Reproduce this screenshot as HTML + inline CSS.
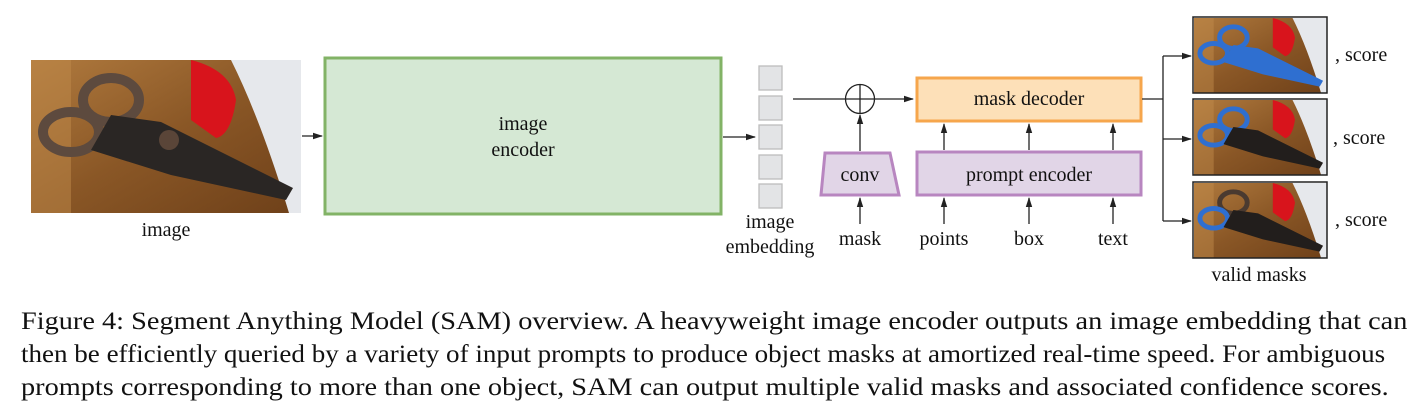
<!DOCTYPE html>
<html><head><meta charset="utf-8"><style>
html,body{margin:0;padding:0;background:#fff;}
svg{display:block;}
text{font-family:"Liberation Serif",serif;fill:#111;}
.cap{position:absolute;left:21px;font-family:"Liberation Serif",serif;font-size:25.5px;color:#111;white-space:nowrap;line-height:1;transform:scaleX(1.11);transform-origin:0 0;}
.j{width:1249px;text-align:justify;text-align-last:justify;white-space:normal;}
</style></head><body>
<div style="position:relative;width:1428px;height:414px;overflow:hidden;">
<svg width="1428" height="414" viewBox="0 0 1428 414" xmlns="http://www.w3.org/2000/svg" style="position:absolute;left:0;top:0;">
<defs>
<marker id="ar" markerWidth="10" markerHeight="8" refX="9" refY="4" orient="auto" markerUnits="userSpaceOnUse">
<path d="M0,0.8 L10,4 L0,7.2 z" fill="#222"/></marker>
<linearGradient id="wood" x1="0" y1="0" x2="1" y2="1">
<stop offset="0" stop-color="#b07a3e"/><stop offset="0.5" stop-color="#8a5726"/><stop offset="1" stop-color="#6e4019"/></linearGradient>
<g id="scene">
<rect width="270" height="153" fill="url(#wood)"/>
<rect x="0" y="0" width="40" height="153" fill="#c08a4a" opacity="0.5"/>
<path d="M160,0 Q200,10 205,40 Q200,75 185,78 L160,60 Z" fill="#d8141c"/>
<path d="M200,0 L270,0 L270,153 L258,153 Q230,60 200,0 Z" fill="#e6e8ec"/>
</g>
</defs>

<g transform="translate(31,60)">
<use href="#scene"/>
<ellipse cx="80" cy="40" rx="28" ry="22" fill="none" stroke="#5d4a3e" stroke-width="10"/>
<ellipse cx="40" cy="72" rx="28" ry="20" fill="none" stroke="#5d4a3e" stroke-width="10"/>
<path d="M80,55 L130,62 L262,128 L255,140 L140,115 L60,90 Z" fill="#2a2624"/>
<circle cx="138" cy="80" r="10" fill="#5a4538"/>
</g>
<text x="166" y="236" font-size="20" text-anchor="middle">image</text>
<line x1="302" y1="136" x2="322" y2="136" stroke="#222" stroke-width="1.3" marker-end="url(#ar)"/>

<rect x="325" y="58" width="396" height="156" fill="#d5e8d4" stroke="#82b366" stroke-width="3"/>
<text x="523" y="130" font-size="20" text-anchor="middle">image</text>
<text x="523" y="156" font-size="20" text-anchor="middle">encoder</text>
<line x1="723" y1="137" x2="755" y2="137" stroke="#222" stroke-width="1.3" marker-end="url(#ar)"/>

<g fill="#e3e4e6" stroke="#bdbdbd" stroke-width="1.3">
<rect x="759" y="66" width="23" height="24"/><rect x="759" y="96" width="23" height="24"/>
<rect x="759" y="125" width="23" height="24"/><rect x="759" y="155" width="23" height="24"/>
<rect x="759" y="184" width="23" height="24"/></g>
<text x="770" y="228" font-size="20" text-anchor="middle">image</text>
<text x="770" y="253" font-size="20" text-anchor="middle">embedding</text>

<line x1="793" y1="99" x2="913" y2="99" stroke="#222" stroke-width="1.3" marker-end="url(#ar)"/>
<circle cx="860" cy="99" r="14.5" fill="#fff" stroke="#222" stroke-width="1.3"/>
<line x1="846" y1="99" x2="874" y2="99" stroke="#222" stroke-width="1.3"/>
<line x1="860" y1="85" x2="860" y2="113" stroke="#222" stroke-width="1.3"/>
<line x1="860" y1="151" x2="860" y2="115" stroke="#222" stroke-width="1.3" marker-end="url(#ar)"/>

<path d="M825,153 L890,153 L899,195 L821,195 Z" fill="#e1d5e7" stroke="#b886c0" stroke-width="3"/>
<text x="860" y="181" font-size="20" text-anchor="middle">conv</text>

<rect x="917" y="78" width="224" height="43" fill="#fde0b8" stroke="#f6a64c" stroke-width="3"/>
<text x="1029" y="105" font-size="20" text-anchor="middle">mask decoder</text>
<rect x="917" y="152" width="224" height="43" fill="#e1d5e7" stroke="#b886c0" stroke-width="3"/>
<text x="1029" y="181" font-size="20" text-anchor="middle">prompt encoder</text>

<g stroke="#222" stroke-width="1.3">
<line x1="944" y1="150" x2="944" y2="124" marker-end="url(#ar)"/>
<line x1="1029" y1="150" x2="1029" y2="124" marker-end="url(#ar)"/>
<line x1="1113" y1="150" x2="1113" y2="124" marker-end="url(#ar)"/>
<line x1="860" y1="224" x2="860" y2="198" marker-end="url(#ar)"/>
<line x1="944" y1="224" x2="944" y2="198" marker-end="url(#ar)"/>
<line x1="1029" y1="224" x2="1029" y2="198" marker-end="url(#ar)"/>
<line x1="1113" y1="224" x2="1113" y2="198" marker-end="url(#ar)"/>
</g>
<text x="860" y="245" font-size="20" text-anchor="middle">mask</text>
<text x="944" y="245" font-size="20" text-anchor="middle">points</text>
<text x="1029" y="245" font-size="20" text-anchor="middle">box</text>
<text x="1113" y="245" font-size="20" text-anchor="middle">text</text>

<g stroke="#222" stroke-width="1.3" fill="none">
<line x1="1142" y1="99" x2="1163" y2="99"/>
<line x1="1163" y1="56" x2="1163" y2="221"/>
<line x1="1163" y1="56" x2="1191" y2="56" marker-end="url(#ar)"/>
<line x1="1163" y1="139" x2="1191" y2="139" marker-end="url(#ar)"/>
<line x1="1163" y1="221" x2="1191" y2="221" marker-end="url(#ar)"/>
</g>

<g transform="translate(1194,18) scale(0.4926,0.4902)">
<use href="#scene"/>
<ellipse cx="80" cy="40" rx="28" ry="22" fill="none" stroke="#2f6fd0" stroke-width="10"/>
<ellipse cx="40" cy="72" rx="28" ry="20" fill="none" stroke="#2f6fd0" stroke-width="10"/>
<path d="M80,55 L130,62 L262,128 L255,140 L140,115 L60,90 Z" fill="#2f6fd0"/>
</g>
<g transform="translate(1194,100) scale(0.4926,0.4902)">
<use href="#scene"/>
<ellipse cx="80" cy="40" rx="28" ry="22" fill="none" stroke="#2f6fd0" stroke-width="10"/>
<ellipse cx="40" cy="72" rx="28" ry="20" fill="none" stroke="#2f6fd0" stroke-width="10"/>
<path d="M80,55 L130,62 L262,128 L255,140 L140,115 L60,90 Z" fill="#221e1c"/>
</g>
<g transform="translate(1194,183) scale(0.4926,0.4902)">
<use href="#scene"/>
<ellipse cx="80" cy="40" rx="28" ry="22" fill="none" stroke="#4a3a30" stroke-width="10"/>
<ellipse cx="40" cy="72" rx="28" ry="20" fill="none" stroke="#2f6fd0" stroke-width="10"/>
<path d="M80,55 L130,62 L262,128 L255,140 L140,115 L60,90 Z" fill="#221e1c"/>
</g>
<g fill="none" stroke="#222" stroke-width="1.5">
<rect x="1193" y="17" width="134" height="76"/>
<rect x="1193" y="99" width="134" height="76"/>
<rect x="1193" y="182" width="134" height="76"/>
</g>
<text x="1335" y="61" font-size="20">, score</text>
<text x="1333" y="144" font-size="20">, score</text>
<text x="1335" y="226" font-size="20">, score</text>
<text x="1259" y="281" font-size="20" text-anchor="middle">valid masks</text>
</svg>
<div class="cap j" style="top:308px;">Figure 4: Segment Anything Model (SAM) overview. A heavyweight image encoder outputs an image embedding that can</div>
<div class="cap" style="top:341px;transform:scaleX(1.06);">then be efficiently queried by a variety of input prompts to produce object masks at amortized real-time speed. For ambiguous</div>
<div class="cap" style="top:374px;">prompts corresponding to more than one object, SAM can output multiple valid masks and associated confidence scores.</div>
</div>
</body></html>
